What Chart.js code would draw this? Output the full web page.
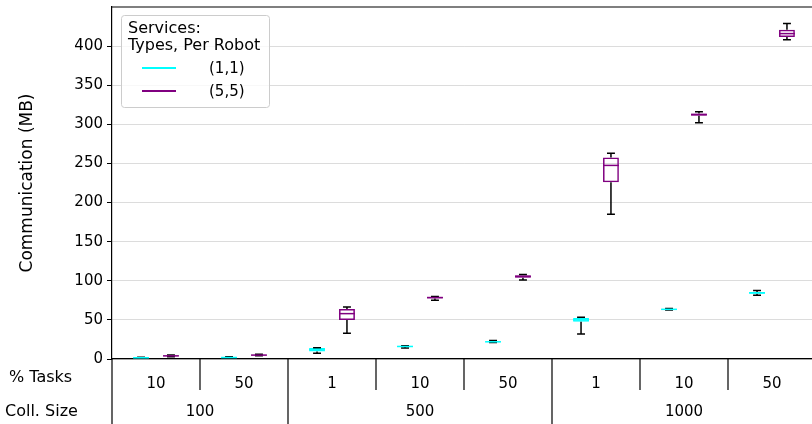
<!DOCTYPE html>
<html>
<head>
<meta charset="utf-8">
<script src="https://cdn.jsdelivr.net/npm/chart.js@4/dist/chart.umd.min.js"></script>
<style>
  html, body { margin: 0; padding: 0; background: #fff; overflow: hidden; }
  #wrap { width: 820px; height: 424px; }
</style>
</head>
<body>
<div id="wrap"><canvas id="chart" width="820" height="424"></canvas></div>
<script>
// x axis: % Tasks per category, grouped by collection size
const tasks      = ['10', '50', '1', '10', '50', '1', '10', '50']
const collSizes  = ['100', '500', '1000']
const collSpans  = [2, 3, 3]

const seriesNames  = ['(1,1)', '(5,5)']
const legendTitle  = ['Services:', 'Types, Per Robot']

// series (1,1): whisker low, q1, median, q3, whisker high
const s11Min = [1.0, 1.2, 7.5, 14.0, 21.0, 32.0, 62.5, 81.5]
const s11Q1  = [1.3, 1.5, 9.5, 15.5, 21.5, 47.5, 63.0, 83.5]
const s11Med = [1.6, 1.9, 12.0, 16.0, 22.0, 50.0, 63.5, 84.5]
const s11Q3  = [1.9, 2.3, 14.0, 16.8, 22.5, 52.5, 64.0, 85.5]
const s11Max = [2.1, 2.8, 14.5, 17.0, 23.5, 53.5, 64.5, 87.5]

// series (5,5)
const s55Min = [3.0, 4.0, 33.0, 75.0, 101.0, 185.0, 302.0, 408.0]
const s55Q1  = [3.5, 4.5, 50.0, 77.5, 104.0, 226.0, 311.0, 411.5]
const s55Med = [4.0, 5.0, 58.0, 78.5, 105.5, 247.5, 312.5, 416.0]
const s55Q3  = [4.5, 5.5, 64.0, 79.5, 107.0, 257.5, 314.0, 421.0]
const s55Max = [5.0, 6.0, 66.5, 80.0, 108.0, 263.0, 316.0, 429.0]

const colors = ['#00ffff', '#800080']
const font   = "'DejaVu Sans', sans-serif"

const boxes = [
    { min: s11Min, q1: s11Q1, med: s11Med, q3: s11Q3, max: s11Max },
    { min: s55Min, q1: s55Q1, med: s55Med, q3: s55Q3, max: s55Max },
]

// whiskers, caps and medians on top of the floating bars
const boxPlugin = {
    id: 'boxes',
    afterDatasetsDraw(chart) {
        const ctx = chart.ctx
        const y   = chart.scales.y
        boxes.forEach((b, di) => {
            const meta = chart.getDatasetMeta(di)
            meta.data.forEach((bar, i) => {
                const x  = bar.x
                const hw = bar.width / 2
                const cw = bar.width / 4
                ctx.save()
                ctx.lineWidth = 1.5
                ctx.strokeStyle = '#000'
                ctx.beginPath()
                ctx.moveTo(x, y.getPixelForValue(b.q3[i]))
                ctx.lineTo(x, y.getPixelForValue(b.max[i]))
                ctx.moveTo(x - cw, y.getPixelForValue(b.max[i]))
                ctx.lineTo(x + cw, y.getPixelForValue(b.max[i]))
                ctx.moveTo(x, y.getPixelForValue(b.q1[i]))
                ctx.lineTo(x, y.getPixelForValue(b.min[i]))
                ctx.moveTo(x - cw, y.getPixelForValue(b.min[i]))
                ctx.lineTo(x + cw, y.getPixelForValue(b.min[i]))
                ctx.stroke()
                ctx.strokeStyle = colors[di]
                ctx.beginPath()
                ctx.moveTo(x - hw, y.getPixelForValue(b.med[i]))
                ctx.lineTo(x + hw, y.getPixelForValue(b.med[i]))
                ctx.stroke()
                ctx.restore()
            })
        })
    }
}

// top frame line, grouped x axis rows and legend box
const decorPlugin = {
    id: 'decor',
    afterDraw(chart) {
        const ctx  = chart.ctx
        const area = chart.chartArea
        const xs   = chart.scales.x
        const half = (xs.getPixelForValue(1) - xs.getPixelForValue(0)) / 2
        ctx.save()
        ctx.strokeStyle = '#000'
        ctx.lineWidth = 1.2
        ctx.beginPath()
        ctx.moveTo(area.left, area.top)
        ctx.lineTo(area.right, area.top)
        ctx.stroke()

        // separators between categories
        ctx.beginPath()
        for (let i = 0; i <= tasks.length; i++) {
            const px = xs.getPixelForValue(0) - half + i * half * 2
            ctx.moveTo(px, area.bottom)
            ctx.lineTo(px, area.bottom + 31)
        }
        // separators between collection sizes
        let idx = 0
        for (let g = 0; g <= collSizes.length; g++) {
            const px = xs.getPixelForValue(0) - half + idx * half * 2
            ctx.moveTo(px, area.bottom)
            ctx.lineTo(px, chart.height)
            if (g < collSpans.length) idx += collSpans[g]
        }
        ctx.stroke()

        ctx.fillStyle = '#000'
        ctx.font = '16px ' + font
        ctx.textBaseline = 'middle'
        ctx.textAlign = 'left'
        ctx.fillText('% Tasks', 9, area.bottom + 19)
        ctx.fillText('Coll. Size', 5, area.bottom + 53)
        ctx.textAlign = 'center'
        ctx.font = '15px ' + font
        idx = 0
        collSizes.forEach((name, g) => {
            const a = xs.getPixelForValue(idx)
            const b = xs.getPixelForValue(idx + collSpans[g] - 1)
            ctx.fillText(name, (a + b) / 2, area.bottom + 53)
            idx += collSpans[g]
        })

        // legend
        const lx = 121, ly = 15, lw = 148, lh = 92
        ctx.fillStyle = 'rgba(255,255,255,0.8)'
        ctx.strokeStyle = '#cccccc'
        ctx.lineWidth = 1
        ctx.beginPath()
        ctx.roundRect(lx + 0.5, ly + 0.5, lw, lh, 3)
        ctx.fill()
        ctx.stroke()
        ctx.fillStyle = '#000'
        ctx.textAlign = 'left'
        ctx.font = '16px ' + font
        ctx.fillText(legendTitle[0], 128, 29)
        ctx.fillText(legendTitle[1], 128, 46)
        ctx.font = '15px ' + font
        seriesNames.forEach((name, i) => {
            const ry = 68 + i * 23
            ctx.strokeStyle = colors[i]
            ctx.lineWidth = 2
            ctx.beginPath()
            ctx.moveTo(142, ry)
            ctx.lineTo(176, ry)
            ctx.stroke()
            ctx.fillText(name, 209, ry + 1)
        })
        ctx.restore()
    }
}

new Chart(document.getElementById('chart'), {
    type: 'bar',
    data: {
        labels: tasks,
        datasets: boxes.map((b, i) => ({
            label: seriesNames[i],
            data: b.q1.map((v, j) => [v, b.q3[j]]),
            backgroundColor: 'rgba(255,255,255,0)',
            borderColor: colors[i],
            borderWidth: 1.5,
            borderSkipped: false,
            barPercentage: 0.53,
            categoryPercentage: 0.68,
        }))
    },
    options: {
        responsive: false,
        animation: false,
        layout: { padding: { top: 7, right: 4, left: 0, bottom: 0 } },
        plugins: {
            legend: { display: false },
            tooltip: { enabled: false },
        },
        scales: {
            x: {
                grid: { display: false },
                border: { display: true, color: '#000', width: 1.2 },
                ticks: { color: '#000', font: { family: font, size: 15 }, padding: 8, maxRotation: 0 },
                afterFit(scale) { scale.height = 65 },
            },
            y: {
                min: 0,
                max: 450,
                ticks: { stepSize: 50, color: '#000', font: { family: font, size: 15 }, padding: 4 },
                afterBuildTicks(scale) { scale.ticks = scale.ticks.filter(t => t.value <= 400) },
                grid: { color: '#dcdcdc', lineWidth: 1, tickColor: '#000', tickLength: 5 },
                border: { display: true, color: '#000', width: 1.2 },
                title: { display: true, text: 'Communication (MB)', color: '#000', font: { family: font, size: 17 }, padding: { top: 17, bottom: 0 } },
                afterFit(scale) {
                    scale.width = 112
                    scale.paddingTop = 0
                    scale.paddingBottom = 0
                },
            },
        },
    },
    plugins: [boxPlugin, decorPlugin],
})
</script>
</body>
</html>
